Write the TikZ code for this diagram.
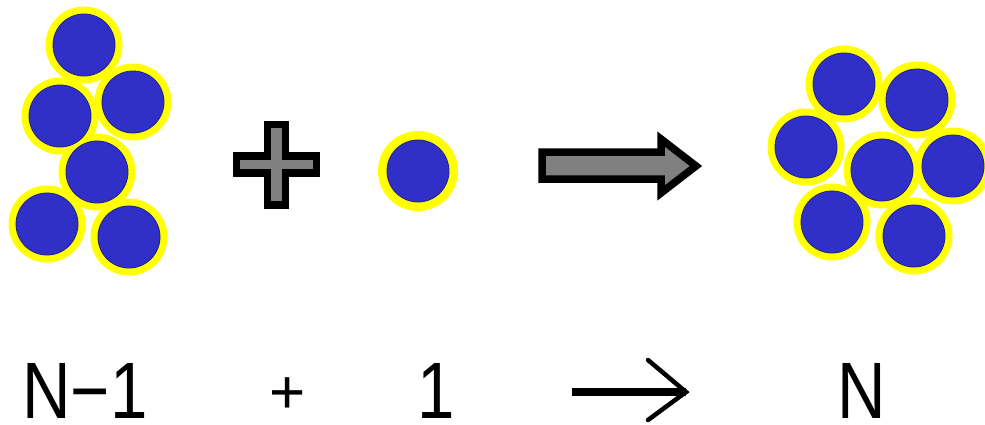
\documentclass[tikz,border=0pt]{standalone}
\usepackage{graphicx}
\usepackage{fontspec}
\setmainfont{Liberation Sans}
\definecolor{ballblue}{RGB}{48,48,200}
\definecolor{balledge}{RGB}{30,30,140}
\definecolor{ringyellow}{RGB}{255,255,0}
\definecolor{shapegray}{RGB}{128,128,128}
\begin{document}
\begin{tikzpicture}[x=1pt,y=-1pt,
  ring/.style={circle,inner sep=0pt,minimum size=77pt,fill=ringyellow},
  ball/.style={circle,inner sep=0pt,minimum size=62pt,fill=ballblue,draw=balledge,line width=0.8pt},
  symbolshape/.style={draw=black,fill=shapegray,line width=7.5pt,line join=miter},
  label/.style={anchor=base,inner sep=0pt,text depth=0pt,font=\fontsize{80}{80}\selectfont},
  thinarrow/.style={line width=8pt},
  thinhead/.style={line width=4.5pt,line cap=round}]
\useasboundingbox (0,0) rectangle (985,424);
\fill[white] (0,0) rectangle (985,424);
% left cluster (N-1)
\foreach \n/\x/\y in {a1/84/45, a2/60/116, a3/133/102, a4/97/172, a5/47/224, a6/129/237}{
  \node[ring] (r\n) at (\x,\y) {};
}
\foreach \n/\x/\y in {a1/84/45, a2/60/116, a3/133/102, a4/97/172, a5/47/224, a6/129/237}{
  \node[ball] (\n) at (\x,\y) {};
}
% plus sign
\draw[symbolshape] (267.5,124.5) -- (285.5,124.5) -- (285.5,156) -- (316.5,156) -- (316.5,173)
  -- (285.5,173) -- (285.5,205) -- (267.5,205) -- (267.5,173) -- (236.5,173) -- (236.5,156)
  -- (267.5,156) -- cycle;
% single particle
\node[ring,minimum size=80pt] (rs) at (418,171) {};
\node[ball] (s) at (418,171) {};
% big arrow
\draw[symbolshape] (542,152) -- (661,152) -- (661,139) -- (696,166) -- (661,193) -- (661,179)
  -- (542,179) -- cycle;
% right cluster (N)
\foreach \n/\x/\y in {b1/844/84, b2/917/100, b3/806/147, b4/882/170, b5/953/166, b6/832/222, b7/914/236}{
  \node[ring] (r\n) at (\x,\y) {};
}
\foreach \n/\x/\y in {b1/844/84, b2/917/100, b3/806/147, b4/882/170, b5/953/166, b6/832/222, b7/914/236}{
  \node[ball] (\n) at (\x,\y) {};
}
% equation text
\node[label] (t1) at (85,418) {\scalebox{0.84}[1]{N−1}};
\node[label,font=\fontsize{62}{62}\selectfont] (t2) at (288,413) {+};
\node[label] (t3) at (436,418) {\scalebox{0.84}[1]{1}};
\node[label] (t4) at (862,418) {\scalebox{0.84}[1]{N}};
\coordinate (as) at (572,392);
\coordinate (ae) at (686,392);
\coordinate (h1) at (648,360);
\coordinate (h2) at (648,420);
\draw[thinarrow] (as) -- (ae);
\draw[thinhead] (h1) -- (ae) -- (h2);
\end{tikzpicture}
\end{document}
